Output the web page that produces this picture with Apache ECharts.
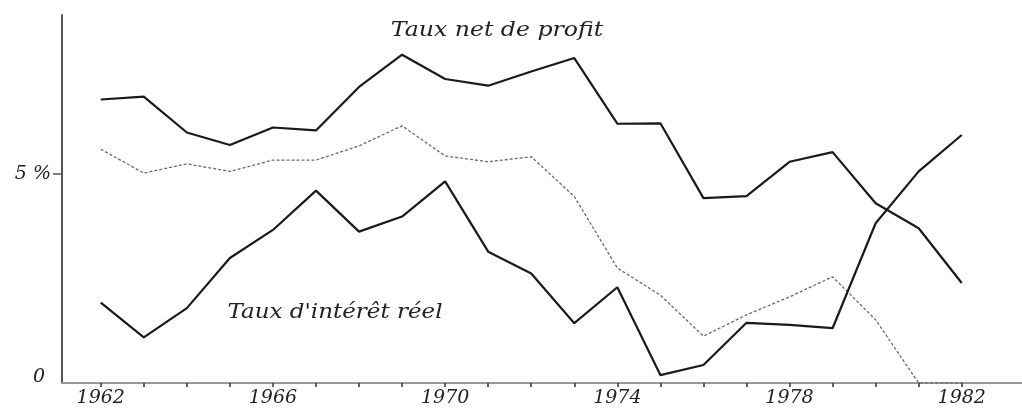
<!DOCTYPE html>
<html>
<head>
<meta charset="utf-8">
<script src="https://cdn.jsdelivr.net/npm/echarts@6/dist/echarts.min.js"></script>
<style>
html,body{margin:0;padding:0;background:#fff;}
#chart{width:1022px;height:409px;}
</style>
</head>
<body>
<div id="chart"></div>
<script>
// Data (values in %)
const years = [1962,1963,1964,1965,1966,1967,1968,1969,1970,1971,1972,1973,1974,1975,1976,1977,1978,1979,1980,1981,1982];
const tauxProfit = [6.78,6.85,5.99,5.69,6.11,6.04,7.08,7.85,7.27,7.11,7.45,7.77,6.20,6.21,4.42,4.47,5.29,5.52,4.30,3.70,2.39];
const serieMedian = [5.59,5.02,5.24,5.06,5.33,5.33,5.67,6.15,5.43,5.29,5.41,4.46,2.75,2.10,1.12,1.63,2.06,2.54,1.51,0,0];
const tauxInteret = [1.92,1.09,1.79,2.99,3.66,4.60,3.62,3.98,4.82,3.14,2.62,1.43,2.29,0.19,0.43,1.44,1.39,1.31,3.82,5.06,5.93];
const xLabelYears = [1962,1966,1970,1974,1978,1982];
const yTickValues = [5];
const yLabelValues = [0,5];
const labelProfit = 'Taux net de profit';
const labelInteret = "Taux d'intérêt réel";

const pairs = arr => years.map((y,i)=>[y,arr[i]]);

const chart = echarts.init(document.getElementById('chart'), null, {renderer:'canvas'});
const labelFont = 'DejaVu Serif';
chart.setOption({
  animation:false,
  backgroundColor:'#fff',
  grid:{left:62,right:0,top:15,bottom:26,containLabel:false},
  xAxis:{
    type:'value', min:1961.1, max:1983.4,
    axisLine:{show:true,lineStyle:{color:'#999',width:2}},
    axisTick:{show:true,length:4,customValues:years,lineStyle:{color:'#333',width:1.5}},
    axisLabel:{show:true,customValues:xLabelYears,margin:6,color:'#222',
      fontFamily:labelFont,fontStyle:'italic',fontSize:19,
      formatter:v=>String(Math.round(v))},
    splitLine:{show:false}
  },
  yAxis:{
    type:'value', min:0, max:8.8,
    axisLine:{show:true,lineStyle:{color:'#555',width:2}},
    axisTick:{show:true,length:9,customValues:yTickValues,lineStyle:{color:'#555',width:1.5}},
    axisLabel:{show:true,customValues:yLabelValues,margin:11,color:'#222',
      fontFamily:labelFont,fontStyle:'italic',fontSize:19,
      formatter:v=> v===5 ? '5 %' : '{z|0}',
      rich:{z:{fontFamily:labelFont,fontStyle:'italic',fontSize:19,color:'#222',padding:[0,6,12,0]}}},
    splitLine:{show:false}
  },
  series:[
    {name:labelProfit,type:'line',data:pairs(tauxProfit),symbol:'none',
     lineStyle:{color:'#1a1a1a',width:2.2}},
    {name:'median',type:'line',data:pairs(serieMedian),symbol:'none',
     lineStyle:{color:'#6a6a6a',width:1.3,type:[3,2]}},
    {name:labelInteret,type:'line',data:pairs(tauxInteret),symbol:'none',
     lineStyle:{color:'#1a1a1a',width:2.2}}
  ],
  graphic:[
    {type:'text',x:497,y:31,scaleX:1.18,
     style:{text:labelProfit,font:'italic 20px "DejaVu Serif"',fill:'#222',textAlign:'center',textVerticalAlign:'middle'}},
    {type:'text',x:335,y:313,scaleX:1.15,
     style:{text:labelInteret,font:'italic 20px "DejaVu Serif"',fill:'#222',textAlign:'center',textVerticalAlign:'middle'}}
  ]
});
</script>
</body>
</html>
